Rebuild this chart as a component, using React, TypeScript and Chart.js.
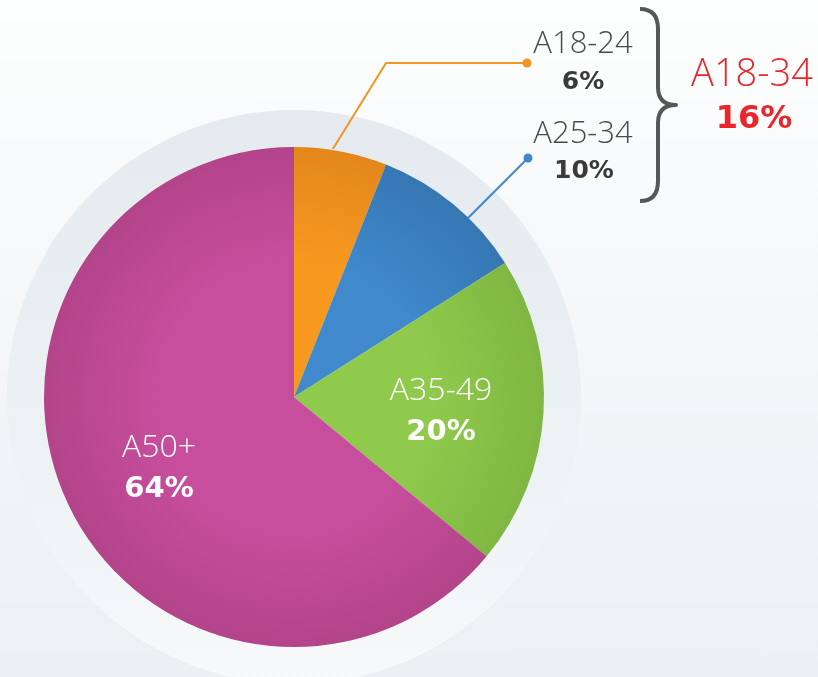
import React, { useEffect, useRef } from "react";
import { Chart, registerables } from "chart.js";

Chart.register(...registerables);

const categories = ["A18-24", "A25-34", "A35-49", "A50+"];
const values = [6, 10, 20, 64];
const percentLabels = ["6%", "10%", "20%", "64%"];
const groupLabel = "A18-34";
const groupPercent = "16%";
const lightColors = ["#f7981f", "#3f89cc", "#8fca4c", "#c74e9c"];
const darkColors = ["#e3871c", "#3677b3", "#7fb742", "#b3448a"];

const LIGHT = "'Open Sans', 'Noto Sans', sans-serif";
const BOLD = "'DejaVu Sans', 'Noto Sans', sans-serif";

const decorPlugin = {
  id: "decor",
  beforeDatasetsDraw(chart: any) {
    const meta = chart.getDatasetMeta(0);
    const arc = meta.data[0];
    if (!arc) return;
    const { x, y, outerRadius } = arc.getProps(["x", "y", "outerRadius"], true);
    const ctx = chart.ctx;
    const R = outerRadius + 37;
    const g = ctx.createLinearGradient(0, y - R, 0, y + R);
    g.addColorStop(0, "#e4eaee");
    g.addColorStop(0.5, "#ebf0f3");
    g.addColorStop(1, "#f7f9fa");
    ctx.save();
    ctx.beginPath();
    ctx.arc(x, y, R, 0, Math.PI * 2);
    ctx.fillStyle = g;
    ctx.fill();
    ctx.restore();
  },
  afterDatasetsDraw(chart: any) {
    const meta = chart.getDatasetMeta(0);
    const arc0 = meta.data[0];
    if (!arc0) return;
    const { x: cx, y: cy, outerRadius: r } = arc0.getProps(["x", "y", "outerRadius"], true);
    const ctx = chart.ctx;
    const pt = (deg: number, rr: number) => {
      const a = (deg * Math.PI) / 180;
      return [cx + rr * Math.sin(a), cy - rr * Math.cos(a)];
    };
    ctx.save();
    // inside labels
    const inside = [
      { i: 2, deg: 90, f: 0.588 },
      { i: 3, deg: 247.1, f: 0.586 },
    ];
    ctx.textAlign = "center";
    ctx.textBaseline = "alphabetic";
    ctx.fillStyle = "#ffffff";
    for (const l of inside) {
      const [px, py] = pt(l.deg, r * l.f);
      ctx.font = `300 32px ${LIGHT}`;
      ctx.fillText(categories[l.i], px, py + 3);
      ctx.font = `bold 29px ${BOLD}`;
      ctx.fillText(percentLabels[l.i], px, py + 43);
    }
    // leader lines for small slices
    const [o1x, o1y] = pt(8.9, r + 1);
    const elbowY = cy - 334;
    const elbowX = cx + 92;
    const dotX = cx + 233;
    ctx.strokeStyle = "#f39620";
    ctx.lineWidth = 2;
    ctx.beginPath();
    ctx.moveTo(o1x, o1y);
    ctx.lineTo(elbowX, elbowY);
    ctx.lineTo(dotX, elbowY);
    ctx.stroke();
    ctx.fillStyle = "#f39620";
    ctx.beginPath();
    ctx.arc(dotX, elbowY, 4.5, 0, Math.PI * 2);
    ctx.fill();

    const [b1x, b1y] = pt(44.2, r);
    const bEndX = cx + 234;
    const bEndY = cy - 239;
    ctx.strokeStyle = "#3f88cb";
    ctx.beginPath();
    ctx.moveTo(b1x, b1y);
    ctx.lineTo(bEndX, bEndY);
    ctx.stroke();
    ctx.fillStyle = "#3f88cb";
    ctx.beginPath();
    ctx.arc(bEndX, bEndY, 4.5, 0, Math.PI * 2);
    ctx.fill();

    // outside labels
    ctx.textAlign = "center";
    const lx = cx + 289;
    ctx.fillStyle = "#4a4a4a";
    ctx.font = `300 31px ${LIGHT}`;
    ctx.fillText(categories[0], lx, cy - 344);
    ctx.font = `bold 25px ${BOLD}`;
    ctx.fillStyle = "#3a3a3a";
    ctx.fillText(percentLabels[0], lx, cy - 308);
    ctx.fillStyle = "#4a4a4a";
    ctx.font = `300 31px ${LIGHT}`;
    ctx.fillText(categories[1], lx, cy - 254);
    ctx.font = `bold 25px ${BOLD}`;
    ctx.fillStyle = "#3a3a3a";
    ctx.fillText(percentLabels[1], lx + 1, cy - 219);

    // brace
    const bx0 = cx + 346;
    const top = cy - 388;
    const bot = cy - 196;
    const mid = (top + bot) / 2;
    const bxm = bx0 + 18;
    const tip = bx0 + 36;
    ctx.strokeStyle = "#555759";
    ctx.lineWidth = 4;
    ctx.lineJoin = "round";
    ctx.beginPath();
    ctx.moveTo(bx0, top);
    ctx.quadraticCurveTo(bxm, top, bxm, top + 20);
    ctx.lineTo(bxm, mid - 18);
    ctx.quadraticCurveTo(bxm, mid, tip, mid);
    ctx.quadraticCurveTo(bxm, mid, bxm, mid + 18);
    ctx.lineTo(bxm, bot - 20);
    ctx.quadraticCurveTo(bxm, bot, bx0, bot);
    ctx.stroke();

    // group label
    ctx.fillStyle = "#e8262c";
    ctx.font = `300 38px ${LIGHT}`;
    ctx.fillText(groupLabel, cx + 458, cy - 311);
    ctx.font = `bold 32px ${BOLD}`;
    ctx.fillText(groupPercent, cx + 460, cy - 269);
    ctx.restore();
  },
};

export default function App() {
  const canvasRef = useRef<HTMLCanvasElement | null>(null);
  useEffect(() => {
    document.body.style.margin = "0";
    const canvas = canvasRef.current;
    if (!canvas) return;
    const makeBg = (c: any) => {
      const i = c.dataIndex;
      const chart = c.chart;
      const meta = chart.getDatasetMeta(0);
      const el = meta && meta.data && meta.data[i];
      if (!el) return lightColors[i];
      const { x, y, outerRadius } = el.getProps(["x", "y", "outerRadius"], true);
      if (!outerRadius) return lightColors[i];
      const g = chart.ctx.createRadialGradient(x, y, 0, x, y, outerRadius);
      g.addColorStop(0, lightColors[i]);
      g.addColorStop(0.55, lightColors[i]);
      g.addColorStop(1, darkColors[i]);
      return g;
    };
    const chart = new Chart(canvas, {
      type: "pie",
      data: {
        labels: categories,
        datasets: [
          {
            data: values,
            backgroundColor: makeBg as any,
            borderWidth: 0,
          },
        ],
      },
      options: {
        animation: false,
        responsive: false,
        maintainAspectRatio: false,
        layout: { padding: { left: 44, top: 147, right: 274, bottom: 30 } },
        plugins: { legend: { display: false }, tooltip: { enabled: false } },
      },
      plugins: [decorPlugin],
    });
    chart.update();
    return () => chart.destroy();
  }, []);
  return (
    <div
      style={{
        width: 818,
        height: 677,
        position: "relative",
        background: "linear-gradient(180deg, #fdfefe 0%, #f6f8f9 40%, #ecf0f3 100%)",
        overflow: "hidden",
      }}
    >
      <canvas ref={canvasRef} width={818} height={677} style={{ display: "block" }} />
    </div>
  );
}
